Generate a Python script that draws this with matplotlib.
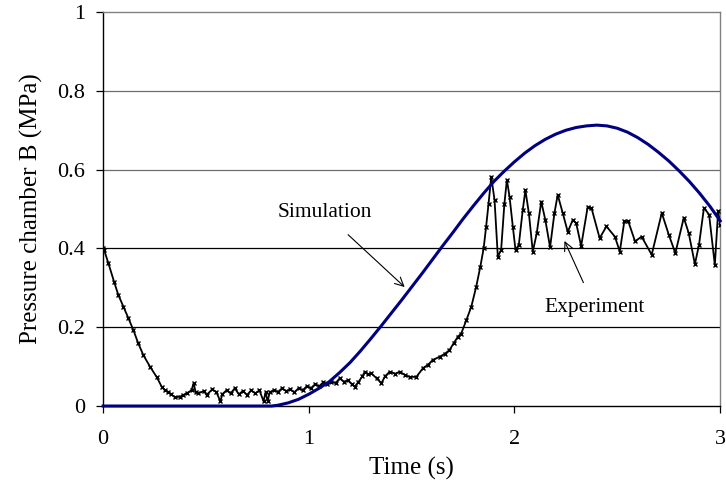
import numpy as np
import matplotlib.pyplot as plt

plt.rcParams['font.family'] = ['Liberation Serif', 'DejaVu Serif']

# simulated pressure in chamber B (MPa)
t_sim = [0.0, 0.82, 0.85, 0.9, 0.95, 1.0, 1.05, 1.1, 1.15, 1.2, 1.25, 1.3, 1.35,
         1.4, 1.45, 1.5, 1.55, 1.6, 1.65, 1.7, 1.75, 1.8, 1.85, 1.9, 1.95, 2.0,
         2.05, 2.1, 2.15, 2.2, 2.25, 2.3, 2.35, 2.4, 2.45, 2.5, 2.55, 2.6, 2.65,
         2.7, 2.75, 2.8, 2.85, 2.9, 2.95, 3.0]
p_sim = [0.0, 0.0, 0.002, 0.008, 0.017, 0.03, 0.045, 0.062, 0.085, 0.11, 0.139,
         0.17, 0.202, 0.235, 0.268, 0.302, 0.336, 0.371, 0.406, 0.44, 0.475, 0.508,
         0.54, 0.57, 0.596, 0.62, 0.642, 0.661, 0.677, 0.69, 0.70, 0.707, 0.711,
         0.713, 0.711, 0.705, 0.695, 0.681, 0.664, 0.644, 0.622, 0.597, 0.57, 0.54,
         0.507, 0.47]

# measured pressure in chamber B (MPa)
t_exp = [0.0, 0.005, 0.026, 0.053, 0.074, 0.099, 0.123, 0.147, 0.171, 0.196, 0.228,
         0.26, 0.285, 0.30, 0.317, 0.33, 0.35, 0.374, 0.39, 0.406, 0.43, 0.44, 0.45,
         0.463, 0.49, 0.503, 0.53, 0.55, 0.57, 0.58, 0.60, 0.62, 0.64, 0.66, 0.68,
         0.70, 0.72, 0.74, 0.76, 0.78, 0.79, 0.80, 0.81, 0.83, 0.85, 0.87, 0.89,
         0.91, 0.93, 0.95, 0.97, 0.99, 1.01, 1.03, 1.05, 1.07, 1.09, 1.11, 1.13,
         1.15, 1.17, 1.19, 1.21, 1.223, 1.24, 1.26, 1.272, 1.29, 1.304, 1.33, 1.353,
         1.37, 1.393, 1.42, 1.442, 1.47, 1.49, 1.523, 1.555, 1.58, 1.603, 1.636,
         1.66, 1.684, 1.705, 1.725, 1.741, 1.766, 1.79, 1.814, 1.834, 1.85, 1.862,
         1.874, 1.887, 1.903, 1.919, 1.935, 1.951, 1.963, 1.976, 1.992, 2.005,
         2.021, 2.04, 2.053, 2.07, 2.089, 2.108, 2.13, 2.15, 2.173, 2.194, 2.21,
         2.235, 2.259, 2.283, 2.30, 2.324, 2.356, 2.374, 2.414, 2.447, 2.488,
         2.512, 2.534, 2.553, 2.586, 2.618, 2.667, 2.716, 2.75, 2.782, 2.823,
         2.847, 2.877, 2.897, 2.921, 2.946, 2.974, 2.99, 3.0]
p_exp = [0.40, 0.396, 0.362, 0.316, 0.282, 0.252, 0.223, 0.193, 0.159, 0.129, 0.10,
         0.074, 0.049, 0.040, 0.036, 0.03, 0.022, 0.024, 0.028, 0.032, 0.04, 0.058,
         0.035, 0.032, 0.038, 0.028, 0.042, 0.036, 0.012, 0.03, 0.04, 0.032, 0.045,
         0.03, 0.038, 0.028, 0.04, 0.032, 0.04, 0.012, 0.035, 0.012, 0.035, 0.04,
         0.036, 0.045, 0.038, 0.042, 0.035, 0.045, 0.04, 0.05, 0.045, 0.055, 0.05,
         0.06, 0.055, 0.062, 0.058, 0.07, 0.062, 0.065, 0.055, 0.049, 0.06, 0.075,
         0.087, 0.08, 0.083, 0.07, 0.058, 0.075, 0.087, 0.082, 0.087, 0.078, 0.074,
         0.074, 0.096, 0.105, 0.117, 0.125, 0.132, 0.142, 0.16, 0.176, 0.184, 0.218,
         0.252, 0.303, 0.354, 0.40, 0.455, 0.514, 0.582, 0.523, 0.379, 0.396, 0.514,
         0.574, 0.531, 0.455, 0.396, 0.409, 0.497, 0.548, 0.489, 0.392, 0.438,
         0.519, 0.472, 0.403, 0.489, 0.536, 0.489, 0.442, 0.472, 0.464, 0.406,
         0.506, 0.503, 0.426, 0.456, 0.430, 0.392, 0.469, 0.469, 0.418, 0.430,
         0.384, 0.490, 0.435, 0.388, 0.478, 0.439, 0.360, 0.409, 0.503, 0.486,
         0.358, 0.495, 0.46]

y_ticks = [0, 0.2, 0.4, 0.6, 0.8, 1]
x_ticks = [0, 1, 2, 3]

fig = plt.figure(figsize=(7.26, 4.9), dpi=100)
ax = fig.add_axes([0.142, 0.1714, 0.85, 0.804])

for y in y_ticks[1:-1]:
    ax.axhline(y, color='black' if y < 0.5 else '#6e6e6e', lw=0.9, zorder=1)

ax.plot(t_exp, p_exp, '-', color='black', lw=1.3, marker='x', ms=3.5, mew=1.0,
        zorder=3)
ax.plot(t_sim, p_sim, '-', color='#000080', lw=2.2, zorder=4, clip_on=False,
        solid_joinstyle='round')

ax.set_xlim(0, 3)
ax.set_ylim(0, 1)
ax.set_xticks(x_ticks)
ax.set_xticklabels([str(v) for v in x_ticks])
ax.set_yticks(y_ticks)
ax.set_yticklabels(['0', '0.2', '0.4', '0.6', '0.8', '1'])
ax.tick_params(direction='out', length=5, width=0.9, labelsize=16, pad=8)
ax.tick_params(axis='x', pad=12)

for side in ['top', 'right']:
    ax.spines[side].set_color('#808080')
    ax.spines[side].set_linewidth(1.0)
for side in ['left', 'bottom']:
    ax.spines[side].set_color('black')
    ax.spines[side].set_linewidth(1.0)

ax.set_xlabel('Time (s)', fontsize=18, labelpad=6)
ax.set_ylabel('Pressure chamber B (MPa)', fontsize=18, labelpad=10)

ax.annotate('Simulation', xy=(1.466, 0.302), xytext=(1.077, 0.49),
            fontsize=15.5, ha='center', va='center',
            arrowprops=dict(arrowstyle='->', color='black', lw=0.8,
                            shrinkA=10, shrinkB=0))
ax.annotate('Experiment', xy=(2.243, 0.419), xytext=(2.39, 0.25),
            fontsize=15.5, ha='center', va='center',
            arrowprops=dict(arrowstyle='->', color='black', lw=0.8,
                            shrinkA=10, shrinkB=0))

fig.savefig('out.png', dpi=100)
